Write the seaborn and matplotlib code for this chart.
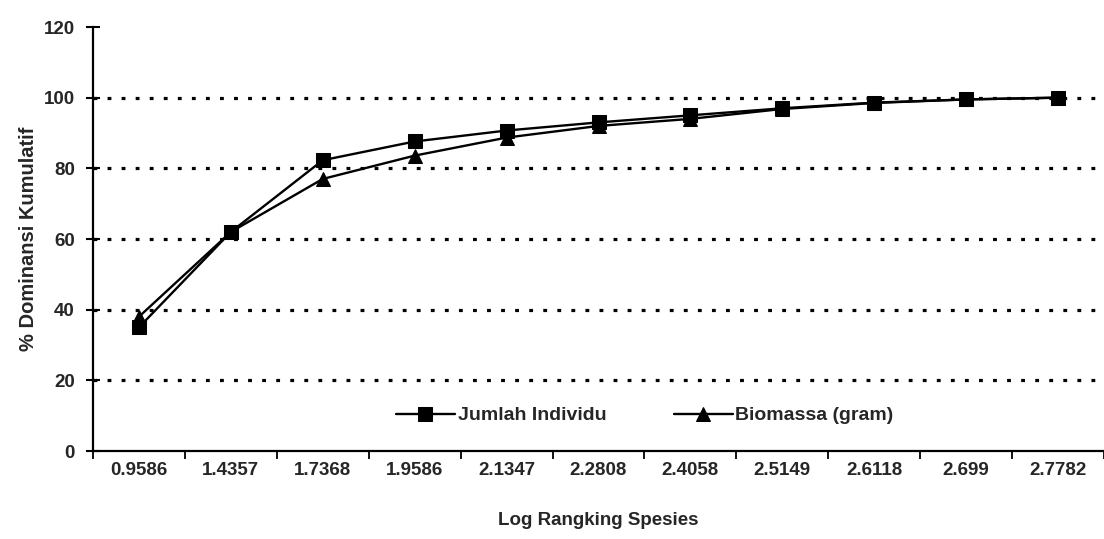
import matplotlib
matplotlib.use('Agg')
import matplotlib.pyplot as plt
import seaborn as sns
import pandas as pd

log_rank = ['0.9586', '1.4357', '1.7368', '1.9586', '2.1347', '2.2808',
            '2.4058', '2.5149', '2.6118', '2.699', '2.7782']
jumlah_individu = [35, 62, 82.3, 87.6, 90.7, 93.0, 95.0, 97.0, 98.6, 99.5, 100]
biomassa = [38, 62, 77, 83.6, 88.7, 92.0, 94.0, 96.8, 98.5, 99.5, 100]
series_names = ['Jumlah Individu', 'Biomassa (gram)']

df = pd.DataFrame({
    'Log Rangking Spesies': log_rank * 2,
    'value': jumlah_individu + biomassa,
    'series': [series_names[0]] * len(log_rank) + [series_names[1]] * len(log_rank),
})

sns.set_style('white')
plt.rcParams['font.family'] = ['Liberation Sans', 'DejaVu Sans']
plt.rcParams['font.weight'] = 'bold'

fig = plt.figure(figsize=(11.04, 5.39), dpi=100)
ax = fig.add_axes([93 / 1104, 88 / 539, 1 - 93 / 1104, (451 - 27) / 539])

sns.lineplot(data=df, x='Log Rangking Spesies', y='value', hue='series', style='series',
             markers={series_names[0]: 's', series_names[1]: '^'}, dashes=False,
             palette={series_names[0]: 'black', series_names[1]: 'black'},
             markersize=10.5, linewidth=1.7, markeredgecolor='black', ax=ax)

for yv in [20, 40, 60, 80, 100]:
    ax.axhline(yv, color='black', linestyle=(0, (1.2, 3.2)), linewidth=2.3, zorder=0)

ax.set_ylim(0, 120)
ax.set_xlim(-0.5, 10.45)
ax.set_yticks(range(0, 121, 20))
ax.set_xticks(range(len(log_rank)))
ax.set_xticks([i + 0.5 for i in range(-1, len(log_rank))], minor=True)
ax.tick_params(axis='x', which='major', length=0, pad=8, labelsize=13.5)
ax.tick_params(axis='x', which='minor', length=6, width=1.3, direction='out', color='black')
ax.tick_params(axis='y', length=10, width=1.5, direction='inout', color='black', labelsize=13.5, pad=8)
ax.yaxis.set_ticks_position('left')
ax.xaxis.set_ticks_position('bottom')

for side in ['top', 'right']:
    ax.spines[side].set_visible(False)
for side in ['left', 'bottom']:
    ax.spines[side].set_color('black')
    ax.spines[side].set_linewidth(1.6)

ax.set_xlabel('Log Rangking Spesies', fontsize=13.5, fontweight='bold', labelpad=24)
ax.set_ylabel('% Dominansi Kumulatif', fontsize=14.5, fontweight='bold', labelpad=4)

handles, labels = ax.get_legend_handles_labels()
ax.legend(handles, labels, ncol=2, frameon=False, loc='center',
          bbox_to_anchor=((645 - 93) / (1104 - 93), 10 / 120),
          handlelength=3.0, handletextpad=0.15, columnspacing=3.5, fontsize=14)

fig.savefig('out.png', dpi=100)
